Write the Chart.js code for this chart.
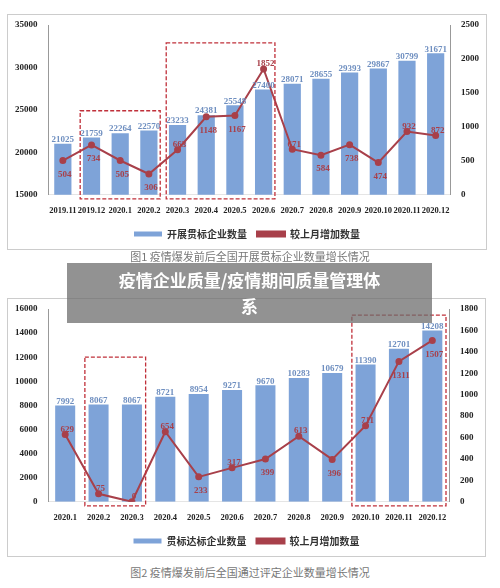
<!DOCTYPE html>
<html><head><meta charset="utf-8">
<script src="https://cdn.jsdelivr.net/npm/chart.js@4"></script>
<style>
body{margin:0;width:500px;height:588px;background:#fff;position:relative;overflow:hidden;font-family:"Noto Sans CJK SC";}
.box{position:absolute;border:1px solid #ccc;background:#fff;}
.cap{position:absolute;left:0;width:500px;text-align:center;font-size:11px;color:#777;}
#ov{position:absolute;left:67px;top:263px;width:365px;height:60px;background:rgba(110,110,110,0.75);color:#fff;font-weight:bold;font-size:17px;text-align:center;line-height:26px;padding-top:4px;box-sizing:border-box;}
</style></head><body>
<div class="box" style="left:7px;top:14px;width:478px;height:234px"><canvas id="c1" width="478" height="234"></canvas></div>
<div class="cap" style="top:248px">图1 疫情爆发前后全国开展贯标企业数量增长情况</div>
<div class="box" style="left:7px;top:298px;width:477px;height:257px"><canvas id="c2" width="477" height="257"></canvas></div>
<div class="cap" style="top:564px">图2 疫情爆发前后全国通过评定企业数量增长情况</div>
<div id="ov">疫情企业质量/疫情期间质量管理体<br>系</div>
<script>
const cats1=["2019.11","2019.12","2020.1","2020.2","2020.3","2020.4","2020.5","2020.6","2020.7","2020.8","2020.9","2020.10","2020.11","2020.12"];
const bars1=[21025,21759,22264,22570,23233,24381,25548,27400,28071,28655,29393,29867,30799,31671];
const line1=[504,734,505,306,663,1148,1167,1852,671,584,738,474,932,872];
const below1=[1,1,1,1,0,1,1,0,0,1,1,1,0,0];
const boxes1=[[1,3],[4,7]];
const cats2=["2020.1","2020.2","2020.3","2020.4","2020.5","2020.6","2020.7","2020.8","2020.9","2020.10","2020.11","2020.12"];
const bars2=[7992,8067,8067,8721,8954,9271,9670,10283,10679,11390,12701,14208];
const line2=[629,75,0,654,233,317,399,613,396,711,1311,1507];
const below2=[0,0,0,0,1,0,1,0,1,0,1,1];
const boxes2=[[1,2],[9,11]];
const BLUE='#7ea3d8',RED='#a8404a',SER='"Liberation Serif"';
const labelPlugin={id:'lbl',afterDatasetsDraw(ch,a,o){const c=ch.ctx;c.save();c.font='bold 9px '+SER;c.textAlign='center';
 const b=ch.getDatasetMeta(0),l=ch.getDatasetMeta(1);
 b.data.forEach((e,i)=>{c.fillStyle='#6f8fc0';c.fillText(ch.data.datasets[0].data[i],e.x,e.y-4);});
 l.data.forEach((e,i)=>{c.fillStyle=RED;c.fillText(ch.data.datasets[1].data[i],e.x+2,e.y+(o.below[i]?14:-5));});
 c.restore();}};
const boxPlugin={id:'bx',afterDatasetsDraw(ch,a,o){const c=ch.ctx,x=ch.scales.x,ca=ch.chartArea;c.save();c.strokeStyle='#c0303a';c.lineWidth=1.3;c.setLineDash([4,2]);
 const w=(x.getPixelForValue(1)-x.getPixelForValue(0))/2;
 o.boxes.forEach(([s,e],k)=>{const y0=ch.scales.y.getPixelForValue(o.tops[k]);c.strokeRect(x.getPixelForValue(s)-w+3,y0,x.getPixelForValue(e)-x.getPixelForValue(s)+2*w-6,ca.bottom+4-y0);});c.restore();}};
function mk(id,cats,bars,line,yl,yr,names,boxes,tops,below){
 new Chart(document.getElementById(id),{type:'bar',data:{labels:cats,datasets:[
  {type:'bar',label:names[0],data:bars,backgroundColor:BLUE,yAxisID:'y',categoryPercentage:0.6,barPercentage:1,order:2},
  {type:'line',label:names[1],data:line,borderColor:RED,backgroundColor:RED,borderWidth:2,pointRadius:2.5,yAxisID:'y1',order:1}]},
 options:{responsive:false,animation:false,layout:{padding:{top:10,left:4,right:4}},
  plugins:{legend:{position:'bottom',labels:{sort:(a,b)=>a.datasetIndex-b.datasetIndex,font:{size:10,weight:'bold',family:'"Noto Sans CJK SC"'},color:'#333',boxWidth:28,boxHeight:5}},tooltip:{enabled:false},bx:{boxes,tops},lbl:{below}},
  scales:{x:{grid:{display:false},ticks:{font:{size:8.5,weight:'bold',family:SER},color:'#222',maxRotation:0,autoSkip:false}},
   y:{min:yl[0],max:yl[1],ticks:{stepSize:yl[2],callback:v=>String(v),font:{size:9,weight:'bold',family:SER},color:'#222'},grid:{display:false},border:{color:'#999'}},
   y1:{position:'right',min:yr[0],max:yr[1],ticks:{stepSize:yr[2],callback:v=>String(v),font:{size:9,weight:'bold',family:SER},color:'#222'},grid:{display:false},border:{color:'#999'}}}},
 plugins:[labelPlugin,boxPlugin]});}
mk('c1',cats1,bars1,line1,[15000,35000,5000],[0,2500,500],['开展贯标企业数量','较上月增加数量'],boxes1,[24900,32900],below1);
mk('c2',cats2,bars2,line2,[0,16000,2000],[0,1800,200],['贯标达标企业数量','较上月增加数量'],boxes2,[12000,15500],below2);
</script></body></html>
